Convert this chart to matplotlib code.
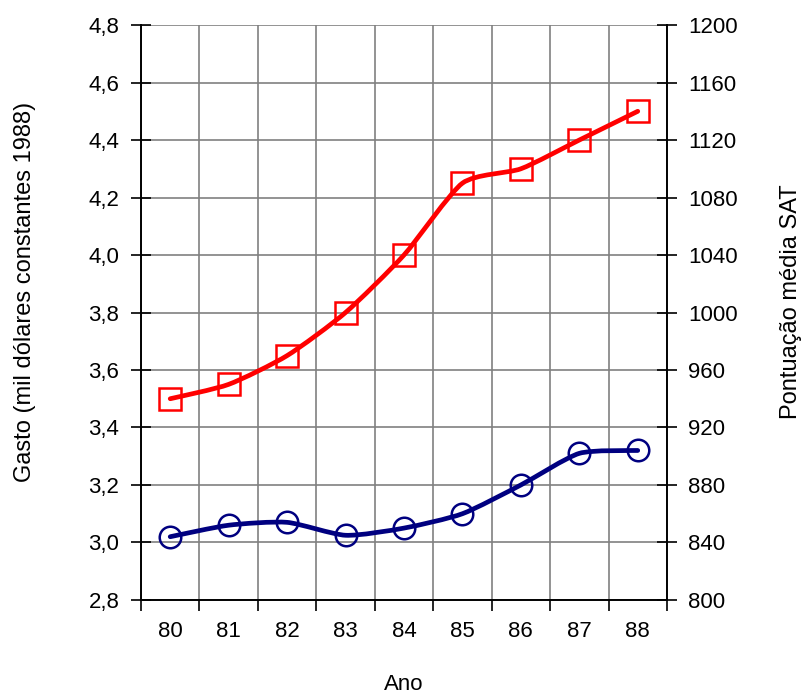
import matplotlib.pyplot as plt
import numpy as np
from matplotlib.path import Path
from matplotlib.patches import PathPatch
from matplotlib.ticker import FixedLocator, FuncFormatter

plt.rcParams['font.family'] = ['Liberation Sans', 'DejaVu Sans']

years = ['80', '81', '82', '83', '84', '85', '86', '87', '88']
gasto = [3.50, 3.55, 3.65, 3.80, 4.00, 4.25, 4.30, 4.40, 4.50]
sat = [844, 852, 854, 845, 850, 860, 880, 902, 904]

RED = '#ff0000'
NAVY = '#000080'
FS = 16


def smooth_path(x, y, k=0.11):
    """Bezier path through the points, like a spreadsheet 'smoothed line'."""
    pts = np.column_stack([x, y]).astype(float)
    verts = [pts[0]]
    codes = [Path.MOVETO]
    n = len(pts)
    for i in range(n - 1):
        p0 = pts[max(i - 1, 0)]
        p1 = pts[i]
        p2 = pts[i + 1]
        p3 = pts[min(i + 2, n - 1)]
        verts += [p1 + (p2 - p0) * k, p2 - (p3 - p1) * k, p2]
        codes += [Path.CURVE4] * 3
    return Path(verts, codes)


fig = plt.figure(figsize=(8.03, 6.96), dpi=100)
ax = fig.add_axes([0.1756, 0.138, 0.655, 0.826])
ax2 = ax.twinx()

xc = np.arange(len(years)) + 0.5

ax.add_patch(PathPatch(smooth_path(xc, gasto), fill=False, edgecolor=RED,
                       lw=3.4, capstyle='round', zorder=3))
ax.plot(xc, gasto, ls='none', marker='s', ms=15.5, mfc='none', mec=RED,
        mew=1.8, zorder=4)

ax2.add_patch(PathPatch(smooth_path(xc, sat), fill=False, edgecolor=NAVY,
                        lw=3.4, capstyle='round', zorder=3))
ax2.plot(xc, sat, ls='none', marker='o', ms=15.5, mfc='none', mec=NAVY,
         mew=1.8, zorder=4)

ax.set_xlim(0, len(years))
ax.set_ylim(2.8, 4.8)
ax2.set_ylim(800, 1200)

# category boundaries carry the ticks and grid, centres carry the labels
ax.xaxis.set_major_locator(FixedLocator(np.arange(len(years) + 1)))
ax.xaxis.set_minor_locator(FixedLocator(xc))
ax.set_xticklabels([], minor=False)
ax.set_xticklabels(years, minor=True)
ax.tick_params(axis='x', which='major', direction='out', length=8, width=1.2)
ax.tick_params(axis='x', which='minor', length=0, pad=15, labelsize=FS)

ax.set_yticks(np.arange(2.8, 4.81, 0.2))
ax.yaxis.set_major_formatter(FuncFormatter(lambda v, _: f'{v:.1f}'.replace('.', ',')))
ax.tick_params(axis='y', direction='inout', length=15, width=1.2, pad=8, labelsize=FS)

ax2.set_yticks(np.arange(800, 1201, 40))
ax2.tick_params(axis='y', direction='inout', length=15, width=1.2, pad=8, labelsize=FS)

ax.grid(True, which='major', color='#808080', lw=1.2)
ax.set_axisbelow(True)

for a in (ax, ax2):
    a.spines['top'].set_visible(False)
    for s in ('left', 'right', 'bottom'):
        a.spines[s].set_linewidth(1.2)

ax.set_xlabel('Ano', fontsize=FS, labelpad=23)
ax.set_ylabel('Gasto (mil dólares constantes 1988)', fontsize=17, labelpad=38)
ax2.set_ylabel('Pontuação média SAT', fontsize=17, labelpad=30)
ax.yaxis.label.set_y(0.536)
ax2.yaxis.label.set_y(0.518)

fig.savefig('out.png', dpi=100)
